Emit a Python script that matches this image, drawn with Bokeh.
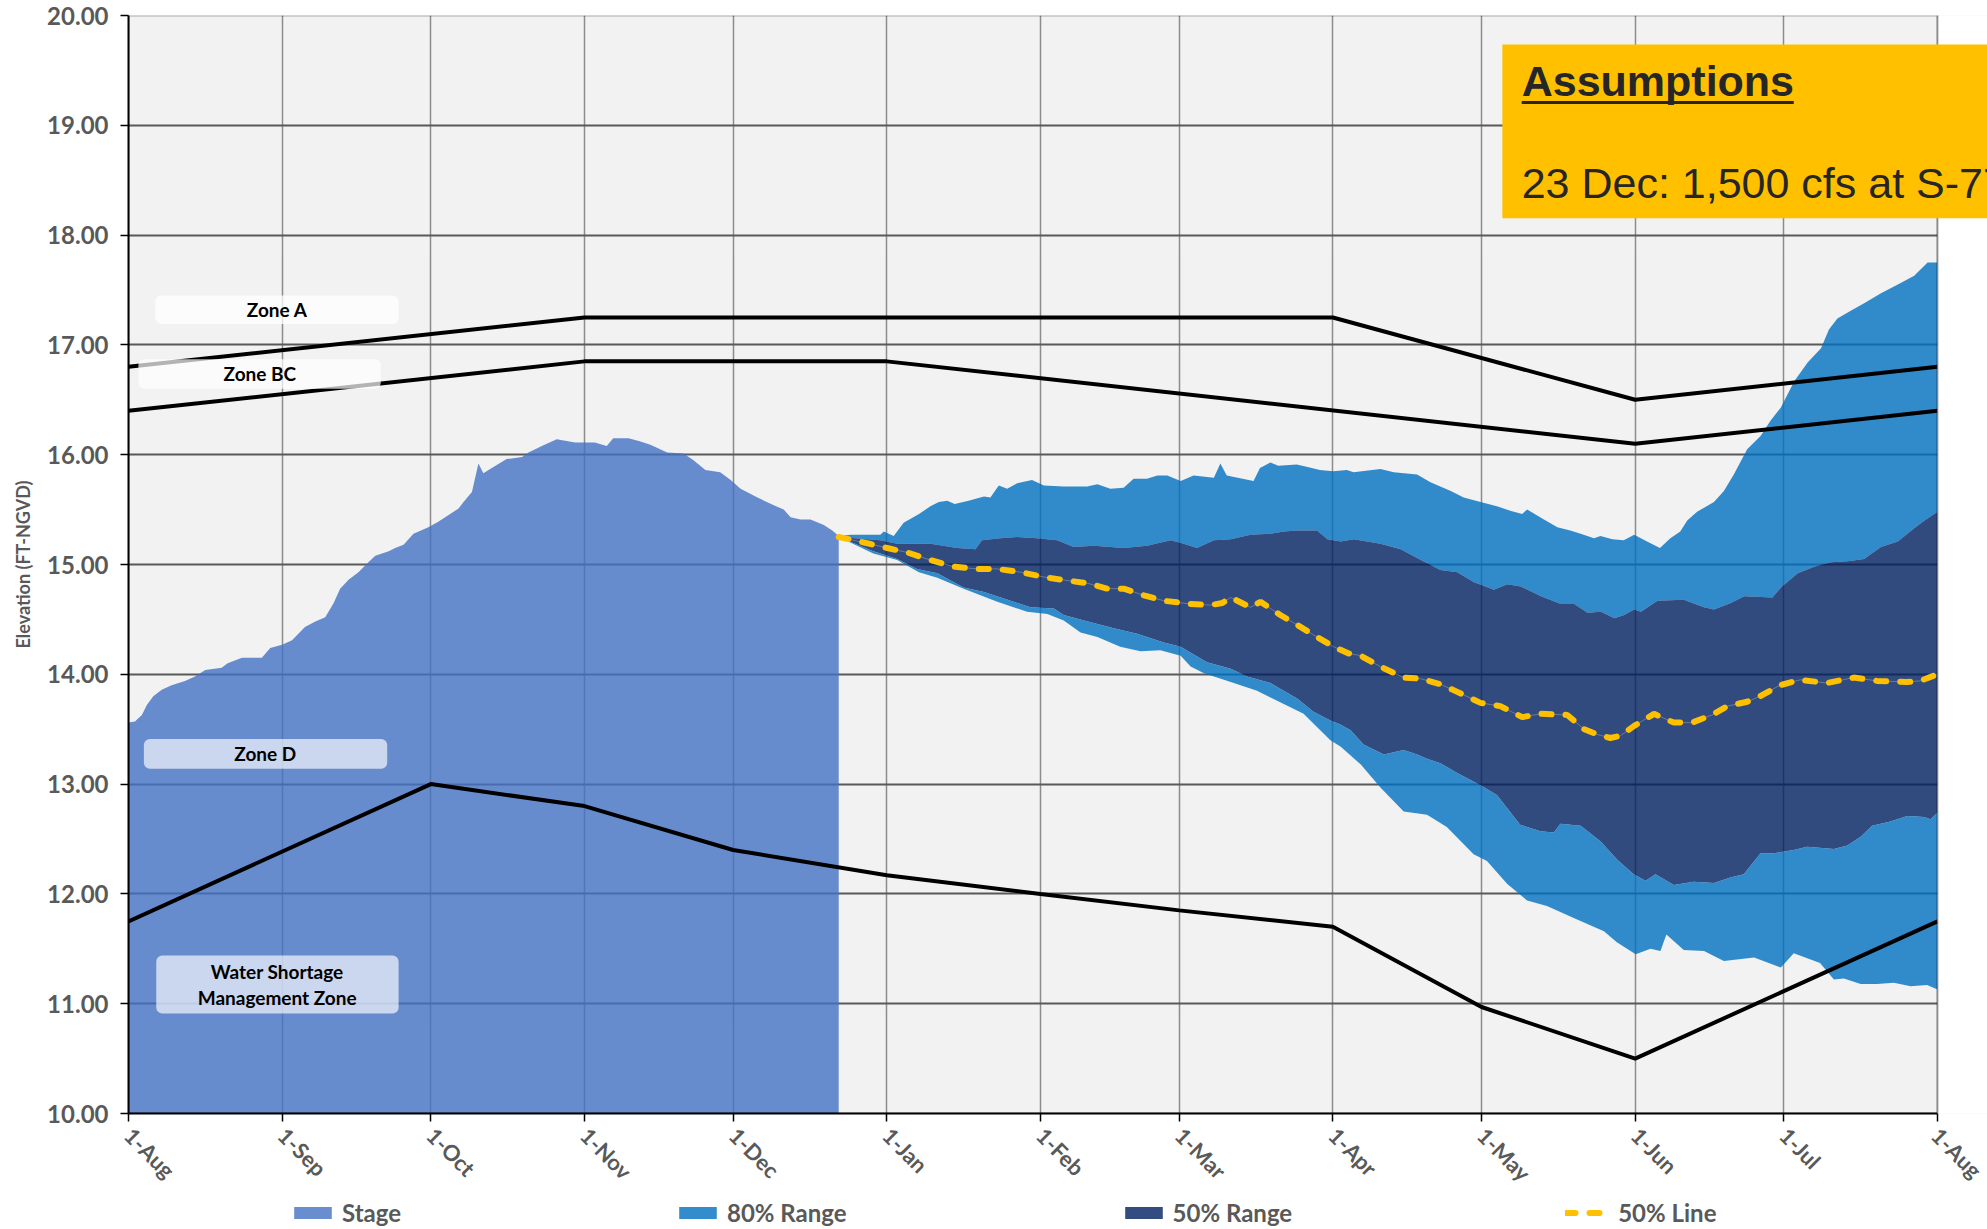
import math
from bokeh.plotting import figure
from bokeh.layouts import column
from bokeh.models import (FixedTicker, NumeralTickFormatter, Legend, LegendItem,
                          BoxAnnotation, Label, Range1d)
from bokeh.embed import file_html
from bokeh.resources import INLINE

# ---------------- data (x = days after 1-Aug) ----------------
month_days = [0, 31, 61, 92, 122, 153, 184, 212, 243, 273, 304, 334, 365]
month_labels = ["1-Aug", "1-Sep", "1-Oct", "1-Nov", "1-Dec", "1-Jan", "1-Feb",
                "1-Mar", "1-Apr", "1-May", "1-Jun", "1-Jul", "1-Aug"]
y_ticks = [10, 11, 12, 13, 14, 15, 16, 17, 18, 19, 20]
legend_labels = ["Stage", "80% Range", "50% Range", "50% Line"]

stage_days = [0, 1.3, 2.7, 3.7, 5, 6.7, 8.7, 11.4, 13.4, 15.5, 18.8, 20, 22.9, 26.9, 28.6,
              31, 33, 35.6, 37.7, 39.7, 41.4, 42.7, 44.4, 46.4, 48.4, 49.8, 52.5, 53.8,
              55.5, 57.5, 60.5, 62.5, 66.6, 67.6, 69.3, 70.6, 71.6, 73.3, 76.3, 79.4,
              80.7, 83.4, 86.4, 90.1, 94.1, 96.5, 97.8, 100.9, 103.3, 105.3, 108.7, 112,
              114, 116.4, 119.4, 121.5, 123.5, 126.9, 130.2, 132.2, 133.6, 135.6, 137.6,
              140.3, 142, 143.3]
stage_vals = [13.56, 13.57, 13.63, 13.72, 13.80, 13.86, 13.90, 13.94, 13.98, 14.04, 14.06,
              14.10, 14.15, 14.15, 14.24, 14.27, 14.31, 14.43, 14.48, 14.52, 14.65, 14.78,
              14.86, 14.93, 15.02, 15.08, 15.12, 15.15, 15.18, 15.28, 15.34, 15.39, 15.51,
              15.57, 15.66, 15.92, 15.83, 15.88, 15.96, 15.98, 16.02, 16.08, 16.14, 16.11,
              16.11, 16.08, 16.15, 16.15, 16.12, 16.09, 16.02, 16.01, 15.95, 15.86, 15.84,
              15.77, 15.69, 15.61, 15.54, 15.50, 15.43, 15.41, 15.41, 15.36, 15.31, 15.26]

up80_days = [143.3, 145.7, 151.7, 152.4, 154.4, 156.4, 159.5, 161.8, 163.5, 165.2, 166.7,
             169.5, 172.6, 173.9, 175.6, 177.3, 179.3, 182.3, 184.7, 188.7, 193.4, 195.5,
             198.1, 200.8, 202.8, 205.5, 207.6, 209.6, 212.3, 214.9, 219, 220.3, 221.6, 227,
             228.3, 230.4, 232, 235.7, 237.7, 240.4, 243.1, 245.8, 247.2, 252.6, 255.3, 260,
             262.7, 266.8, 269.4, 272.8, 276.1, 278.8, 281.2, 282.2, 285.6, 288.3, 290.9,
             293, 295.7, 297, 299.4, 301.7, 303.8, 306.4, 309, 311.1, 313.1, 314.5, 316.5,
             319.9, 321.9, 323.9, 326.6, 329.3, 331.3, 333.4, 336.1, 338.8, 341.5, 343.1,
             344.8, 347.5, 350.2, 353.6, 357, 360.3, 363, 365]
up80_vals = [15.26, 15.27, 15.27, 15.30, 15.26, 15.38, 15.46, 15.53, 15.57, 15.58, 15.55,
             15.58, 15.62, 15.61, 15.72, 15.69, 15.74, 15.77, 15.72, 15.71, 15.71, 15.73,
             15.69, 15.70, 15.78, 15.78, 15.81, 15.81, 15.76, 15.81, 15.79, 15.92, 15.81,
             15.76, 15.88, 15.93, 15.90, 15.91, 15.89, 15.86, 15.85, 15.86, 15.84, 15.87,
             15.84, 15.82, 15.75, 15.67, 15.61, 15.57, 15.53, 15.49, 15.46, 15.50, 15.41,
             15.34, 15.31, 15.28, 15.24, 15.26, 15.23, 15.22, 15.27, 15.21, 15.15, 15.24,
             15.30, 15.40, 15.48, 15.57, 15.67, 15.82, 16.05, 16.17, 16.31, 16.43, 16.67,
             16.84, 16.97, 17.14, 17.24, 17.31, 17.38, 17.47, 17.55, 17.63, 17.75, 17.75]

up50_days = [143.3, 151.7, 155.1, 161.8, 167.2, 170.9, 172.2, 175.9, 179.3, 183.3, 187.4,
             190.7, 194.8, 200.8, 205.5, 210.3, 212.9, 215.6, 219, 222.4, 226.4, 230.4,
             233.1, 235.8, 239.8, 241.9, 244.6, 247.2, 252.6, 256.7, 260, 264.7, 268.1,
             271.4, 275.5, 278.2, 280.9, 285, 289, 291.7, 294.4, 297.1, 299.8, 301.8, 303.8,
             305.2, 308.5, 313.8, 317.9, 319.9, 323.3, 326, 331.7, 333.4, 336.8, 340.1,
             343.5, 346.9, 350.2, 353.6, 357, 360.3, 362.4, 365]
up50_vals = [15.25, 15.22, 15.19, 15.19, 15.15, 15.14, 15.22, 15.24, 15.25, 15.24, 15.22,
             15.16, 15.17, 15.15, 15.17, 15.22, 15.19, 15.15, 15.22, 15.23, 15.27, 15.28,
             15.30, 15.31, 15.31, 15.23, 15.21, 15.23, 15.19, 15.14, 15.06, 14.95, 14.93,
             14.84, 14.77, 14.82, 14.80, 14.71, 14.64, 14.64, 14.56, 14.57, 14.51, 14.54,
             14.59, 14.57, 14.67, 14.68, 14.61, 14.59, 14.65, 14.71, 14.70, 14.79, 14.92,
             14.98, 15.02, 15.03, 15.05, 15.16, 15.21, 15.33, 15.40, 15.48]

lo50_days = [143.3, 150.3, 155.1, 159.1, 163.2, 168.5, 172.6, 178, 182, 186.7, 188.7, 192.8,
             198.8, 203.5, 208.9, 212.3, 217.6, 222.4, 225.7, 230.4, 235.8, 239.1, 242.5,
             244.6, 246.6, 249.2, 253.3, 257.3, 260, 262, 264.7, 268.1, 272.8, 276.1, 280.8,
             284.9, 287.6, 288.9, 293, 297, 300.4, 303.7, 306.1, 308.1, 311.8, 315.8, 319.9,
             323.2, 325.9, 329.3, 332, 336, 338.7, 344.1, 346.8, 349.5, 351.8, 355.5, 358.9,
             362.3, 363.6, 365]
lo50_vals = [15.25, 15.12, 15.05, 14.96, 14.92, 14.79, 14.75, 14.67, 14.61, 14.60, 14.54,
             14.49, 14.42, 14.37, 14.29, 14.25, 14.11, 14.05, 13.98, 13.92, 13.78, 13.66,
             13.58, 13.54, 13.49, 13.36, 13.27, 13.31, 13.27, 13.23, 13.19, 13.10, 12.99,
             12.90, 12.63, 12.57, 12.56, 12.64, 12.62, 12.48, 12.31, 12.18, 12.12, 12.18,
             12.08, 12.11, 12.10, 12.15, 12.18, 12.37, 12.37, 12.40, 12.43, 12.41, 12.44,
             12.52, 12.62, 12.66, 12.71, 12.70, 12.68, 12.74]

lo80_days = [143.3, 150.3, 155.1, 159.5, 163.2, 168.5, 171.9, 175.3, 181.3, 185.4, 188.7,
             192.1, 195.5, 200.1, 204.2, 208.2, 212.3, 214.3, 217, 222.4, 227.7, 233.1,
             237.1, 242.5, 244.6, 248.6, 252.6, 257.3, 262, 266, 271.4, 274.1, 278.2, 282.2,
             286.2, 291.6, 297.7, 300.3, 304.1, 307.1, 309.1, 310.3, 313.8, 317.9, 321.9,
             328, 333.4, 336, 341.3, 344.1, 346.1, 349.5, 352.8, 356.2, 359.6, 362.9, 365]
lo80_vals = [15.25, 15.10, 15.04, 14.93, 14.88, 14.78, 14.72, 14.66, 14.57, 14.55, 14.49,
             14.38, 14.34, 14.25, 14.21, 14.22, 14.17, 14.07, 14.01, 13.93, 13.85, 13.73,
             13.64, 13.40, 13.34, 13.18, 12.97, 12.75, 12.72, 12.61, 12.36, 12.30, 12.09,
             11.94, 11.89, 11.78, 11.66, 11.56, 11.45, 11.50, 11.48, 11.63, 11.49, 11.48,
             11.39, 11.42, 11.33, 11.46, 11.37, 11.22, 11.23, 11.18, 11.18, 11.19, 11.16,
             11.17, 11.13]

line50_days = [143.3, 148.4, 150.3, 153.1, 157.1, 161.8, 166.5, 171.2, 175.3, 180, 185.4,
               190.1, 193.4, 197.5, 200.8, 204.8, 208.9, 214.3, 218.3, 220.7, 222.4, 226.4,
               228.4, 232.4, 235.8, 239.8, 243.2, 246.2, 248.6, 252.6, 257.3, 260.7, 264.7,
               268.1, 272.8, 276.8, 281.2, 284.9, 290.3, 293.7, 296.5, 299, 301, 303.8,
               307.8, 311.8, 315.5, 319.5, 322.6, 326.6, 329.2, 333.2, 337.3, 342.7, 348.1,
               352.8, 358.8, 361.5, 365]
line50_vals = [15.25, 15.20, 15.18, 15.15, 15.11, 15.04, 14.98, 14.96, 14.96, 14.93, 14.88,
               14.85, 14.83, 14.78, 14.78, 14.72, 14.67, 14.64, 14.63, 14.65, 14.70, 14.61,
               14.66, 14.54, 14.45, 14.34, 14.25, 14.19, 14.17, 14.07, 13.97, 13.96, 13.91,
               13.84, 13.74, 13.71, 13.61, 13.64, 13.63, 13.50, 13.45, 13.42, 13.44, 13.53,
               13.64, 13.56, 13.56, 13.63, 13.71, 13.75, 13.80, 13.90, 13.95, 13.92, 13.97,
               13.94, 13.93, 13.94, 14.00]

zoneA_days = [0, 92, 243, 304, 365]
zoneA_vals = [16.8, 17.25, 17.25, 16.5, 16.8]
zoneBC_days = [0, 92, 153, 304, 365]
zoneBC_vals = [16.4, 16.85, 16.85, 16.1, 16.4]
zoneD_days = [0, 61, 92, 122, 153, 184, 212, 243, 273, 304, 365]
zoneD_vals = [11.75, 13.0, 12.8, 12.4, 12.17, 12.0, 11.85, 11.7, 10.97, 10.5, 11.75]

Y_MIN, Y_MAX = 10, 20
X_MIN, X_MAX = month_days[0], month_days[-1]
X_VIEW_END = 375.09   # frame runs on past 1-Aug so the note box can reach the page edge

# ---------------- styles ----------------
GRAY_TXT = "#595959"
STAGE_STYLE = dict(fill_color="#4472C4", fill_alpha=0.8)
R80_STYLE = dict(fill_color="#0070C0", fill_alpha=0.8, line_color=None)
R50_STYLE = dict(fill_color="#002060", fill_alpha=0.8, line_color=None)
L50_STYLE = dict(line_color="#FFC000", line_width=6, line_dash="10 14", line_cap="round")

# ---------------- main figure ----------------
p = figure(width=1987, height=1198, x_range=Range1d(X_MIN, X_VIEW_END),
           y_range=Range1d(Y_MIN, Y_MAX), output_backend="svg", toolbar_location=None,
           min_border_left=128, min_border_right=0, min_border_top=15, min_border_bottom=84)
p.background_fill_color = "#F2F2F2"
p.border_fill_color = "white"
p.outline_line_color = None

p.xaxis.ticker = FixedTicker(ticks=month_days)
p.xaxis.bounds = (X_MIN, X_MAX)
p.xaxis.major_label_overrides = {d: l for d, l in zip(month_days, month_labels)}
p.xaxis.major_label_orientation = -math.pi / 4
p.yaxis.ticker = FixedTicker(ticks=y_ticks)
p.yaxis.formatter = NumeralTickFormatter(format="0.00")
for ax in (p.xaxis[0], p.yaxis[0]):
    ax.axis_line_color = "black"
    ax.axis_line_width = 2
    ax.major_tick_line_color = "black"
    ax.major_tick_line_width = 1.5
    ax.major_tick_out = 8
    ax.major_tick_in = 0
    ax.minor_tick_line_color = None
    ax.major_label_text_font = "Lato"
    ax.major_label_text_font_style = "bold"
    ax.major_label_text_color = GRAY_TXT
p.yaxis.major_label_text_font_size = "24px"
p.xaxis.major_label_text_font_size = "22px"
p.yaxis.major_label_standoff = 12
p.xaxis.major_label_standoff = 10
p.yaxis.axis_label = "Elevation (FT-NGVD)"
p.yaxis.axis_label_text_font = "Lato"
p.yaxis.axis_label_text_font_style = "bold"
p.yaxis.axis_label_text_font_size = "18px"
p.yaxis.axis_label_text_color = GRAY_TXT
p.yaxis.axis_label_standoff = 10

p.xgrid.grid_line_color = "#8C8C8C"
p.xgrid.grid_line_width = 1.5
p.ygrid.grid_line_color = "#595959"
p.ygrid.grid_line_width = 2

# series
p.varea(x=stage_days, y1=[Y_MIN] * len(stage_days), y2=stage_vals, **STAGE_STYLE)
p.patch(x=up80_days + up50_days[::-1], y=up80_vals + up50_vals[::-1], **R80_STYLE)
p.patch(x=up50_days + lo50_days[::-1], y=up50_vals + lo50_vals[::-1], **R50_STYLE)
p.patch(x=lo50_days + lo80_days[::-1], y=lo50_vals + lo80_vals[::-1], **R80_STYLE)

for dd, vv in ((zoneA_days, zoneA_vals), (zoneBC_days, zoneBC_vals), (zoneD_days, zoneD_vals)):
    p.line(dd, vv, line_color="black", line_width=4)

p.line(line50_days, line50_vals, line_color="#7F8FA6", line_width=1, line_alpha=0.7)
p.line(line50_days, line50_vals, **L50_STYLE)

# blank out the frame beyond the year, then draw the plot-area border
p.add_layout(BoxAnnotation(left=X_MAX, fill_color="white", fill_alpha=1, line_color=None))
p.add_layout(BoxAnnotation(left=X_MIN, right=X_MAX, top=Y_MAX, bottom=Y_MIN, fill_alpha=0,
                           line_color="black", line_width=2))

# zone labels
boxes = [
    (5.4, 54.5, 17.45, 17.19, 0.75),
    (2.0, 50.9, 16.87, 16.60, 0.7),
    (3.1, 52.2, 13.41, 13.14, 0.65),
    (5.6, 54.5, 11.44, 10.91, 0.65),
]
for l, r, t, b, a in boxes:
    p.add_layout(BoxAnnotation(left=l, right=r, top=t, bottom=b, fill_color="white",
                               fill_alpha=a, line_color=None, border_radius=6))

zone_texts = [(30.0, 17.32, "Zone A"), (26.5, 16.735, "Zone BC"), (27.6, 13.275, "Zone D"),
              (30.0, 11.175, "Water Shortage\nManagement Zone")]
for x, y, t in zone_texts:
    p.add_layout(Label(x=x, y=y, text=t, text_align="center", text_baseline="middle",
                       text_font="Lato", text_font_style="bold", text_font_size="19px",
                       text_color="black", text_line_height=1.1))

# assumptions box
p.add_layout(BoxAnnotation(left=277.2, top=19.736, bottom=18.153,
                           fill_color="#FFC000", fill_alpha=1, line_color=None))
p.add_layout(Label(x=281.1, y=19.404, text="Assumptions", text_font="Liberation Sans",
                   text_font_style="bold", text_font_size="43px", text_color="#262626",
                   text_baseline="middle"))
p.add_layout(BoxAnnotation(left=281.1, right=336.0, top=19.222, bottom=19.195,
                           fill_color="#262626", fill_alpha=1, line_color=None))
p.add_layout(Label(x=281.1, y=18.471, text="23 Dec: 1,500 cfs at S-77",
                   text_font="Liberation Sans", text_font_size="43px", text_color="#262626",
                   text_baseline="middle"))

# ---------------- legend strip (own small figure, series drawn off its ranges) ----------------
q = figure(width=1987, height=30, x_range=Range1d(0, 1), y_range=Range1d(0, 1),
           output_backend="svg", toolbar_location=None, min_border=0,
           x_axis_location=None, y_axis_location=None)
q.grid.visible = False
q.outline_line_color = None
q.background_fill_color = "white"
q.border_fill_color = "white"
g_stage = q.varea(x=stage_days, y1=[Y_MIN] * len(stage_days), y2=stage_vals, **STAGE_STYLE)
g_80 = q.patch(x=up80_days, y=up80_vals, **R80_STYLE)
g_50 = q.patch(x=up50_days, y=up50_vals, **R50_STYLE)
g_l50 = q.line(x=line50_days, y=line50_vals, **L50_STYLE)
legend = Legend(items=[LegendItem(label=lab, renderers=[r]) for lab, r in
                       zip(legend_labels, [g_stage, g_80, g_50, g_l50])],
                orientation="horizontal", location=(161, 1), spacing=273,
                glyph_width=47, glyph_height=15, label_standoff=6,
                label_text_font="Lato", label_text_font_style="bold",
                label_text_font_size="24px", label_text_color=GRAY_TXT,
                border_line_color=None, background_fill_alpha=0, padding=0, margin=0)
q.add_layout(legend)

layout = column(p, q, spacing=0)
open("out.html", "w").write(file_html(layout, INLINE))
